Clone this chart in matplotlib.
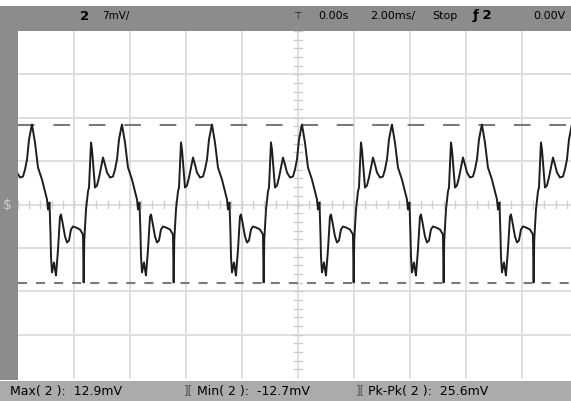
"""
Oscilloscope capture: channel 2, 7 mV/div, 2 ms/div, with Max/Min cursors.
"""
import numpy as np
import matplotlib
matplotlib.use("Agg")
import matplotlib.pyplot as plt

plt.rcParams["lines.scale_dashes"] = False

# --- one period of the trace (t from peak in ms, mV) ---
period_t = [0.000, 0.107, 0.214, 0.357, 0.464, 0.536, 0.571, 0.625, 0.661,
            0.679, 0.714, 0.750, 0.786, 0.821, 0.857, 0.929, 1.000, 1.036,
            1.071, 1.179, 1.250, 1.321, 1.393, 1.464, 1.571, 1.714, 1.821,
            1.846, 1.868, 1.929, 2.000, 2.036, 2.107, 2.143, 2.179, 2.250,
            2.321, 2.393, 2.464, 2.536, 2.607, 2.679, 2.786, 2.893, 2.964,
            3.036, 3.107, 3.196]
period_mv = [12.9, 10.0, 5.97, 4.03, 2.10, 0.81, -0.81, 0.32, -4.84,
             -8.39, -10.97, -10.16, -9.35, -10.48, -11.45, -7.26, -1.94, -1.61,
             -2.42, -5.16, -6.13, -5.81, -4.03, -3.55, -3.71, -4.03, -4.84,
             -12.58, -5.65, -0.81, 2.10, 2.74, 10.0, 8.87, 6.77, 2.74,
             3.06, 4.35, 5.97, 7.58, 6.45, 5.16, 4.35, 4.52, 5.65,
             7.26, 10.48, 12.58]
signal_period = 3.214      # ms
first_peak = -9.5          # ms
n_cycles = range(-1, 7)

v_max, v_min = 12.9, -12.7
top_labels = ["2", "7mV/", "0.00s", "2.00ms/", "Stop", "\u0192 2", "0.00V"]
meas_labels = ["Max( 2 ):  12.9mV", "Min( 2 ):  -12.7mV", "Pk-Pk( 2 ):  25.6mV"]

W, H = 571, 401
fig = plt.figure(figsize=(W / 100, H / 100), dpi=100, facecolor="white")

# gray frame pieces
top = fig.add_axes([0, (H - 31) / H, 1, 25 / H])
top.set_facecolor("#8c8c8c")
left = fig.add_axes([0, (H - 380) / H, 18 / W, 349 / H])
left.set_facecolor("#8c8c8c")
bot = fig.add_axes([0, 0, 1, (H - 381) / H])
bot.set_facecolor("#ababab")
for a in (top, left, bot):
    a.set_xticks([]); a.set_yticks([])
    for s in a.spines.values():
        s.set_visible(False)

ax = fig.add_axes([18 / W, (H - 378) / H, (W - 18) / W, 347 / H])
ax.set_xlim(-10, 9.75)
ax.set_ylim(-28, 28)
ax.set_xticks([]); ax.set_yticks([])
for s in ax.spines.values():
    s.set_visible(False)

# graticule
for x in np.arange(-8, 10, 2):
    ax.axvline(x, color="#dcdcdc", lw=1.3, zorder=1)
for y in np.arange(-21, 28, 7):
    ax.axhline(y, color="#dcdcdc", lw=1.3, zorder=1)
for x in np.arange(-10, 9.8, 0.4):
    ax.plot([x, x], [-0.6, 0.6], color="#cdcdcd", lw=1.0, zorder=1)
for y in np.arange(-28, 28.1, 1.4):
    ax.plot([-0.13, 0.13], [y, y], color="#cdcdcd", lw=1.0, zorder=1)

# cursors
ax.axhline(v_max, color="#7a7a7a", lw=1.5, dashes=(12, 13.5), zorder=2)
ax.axhline(v_min, color="#7a7a7a", lw=1.5, dashes=(6.5, 6.5), zorder=2)

# trace
t = np.concatenate([first_peak + k * signal_period + np.array(period_t) for k in n_cycles])
v = np.concatenate([np.array(period_mv) for k in n_cycles])
ax.plot(t, v, color="#1e1e1e", lw=1.4, zorder=3)

# header texts
fig.text(80 / W, 1 - 16 / H, top_labels[0], fontsize=9.5, fontweight="bold", va="center")
fig.text(102 / W, 1 - 16 / H, top_labels[1], fontsize=7.5, va="center")
fig.text(293 / W, 1 - 16 / H, "\u22a4", fontsize=7, va="center", color="#222")
fig.text(318 / W, 1 - 16 / H, top_labels[2], fontsize=8, va="center")
fig.text(370 / W, 1 - 16 / H, top_labels[3], fontsize=8, va="center")
fig.text(432 / W, 1 - 16 / H, top_labels[4], fontsize=8, va="center")
fig.text(473 / W, 1 - 16 / H, top_labels[5], fontsize=9.5, fontweight="bold", va="center")
fig.text(533 / W, 1 - 16 / H, top_labels[6], fontsize=8, va="center")

# ground marker on the left strip
fig.text(3 / W, 1 - 205 / H, "$", fontsize=10, color="#d0d0d0", va="center")

# measurement footer
for xpos, lab in zip([10, 197, 368], meas_labels):
    fig.text(xpos / W, 10 / H, lab, fontsize=9, va="center")
for xpos in [184, 356]:
    fig.text(xpos / W, 10 / H, "][", fontsize=8.5, va="center", color="#555")

fig.savefig("out.png", dpi=100)
